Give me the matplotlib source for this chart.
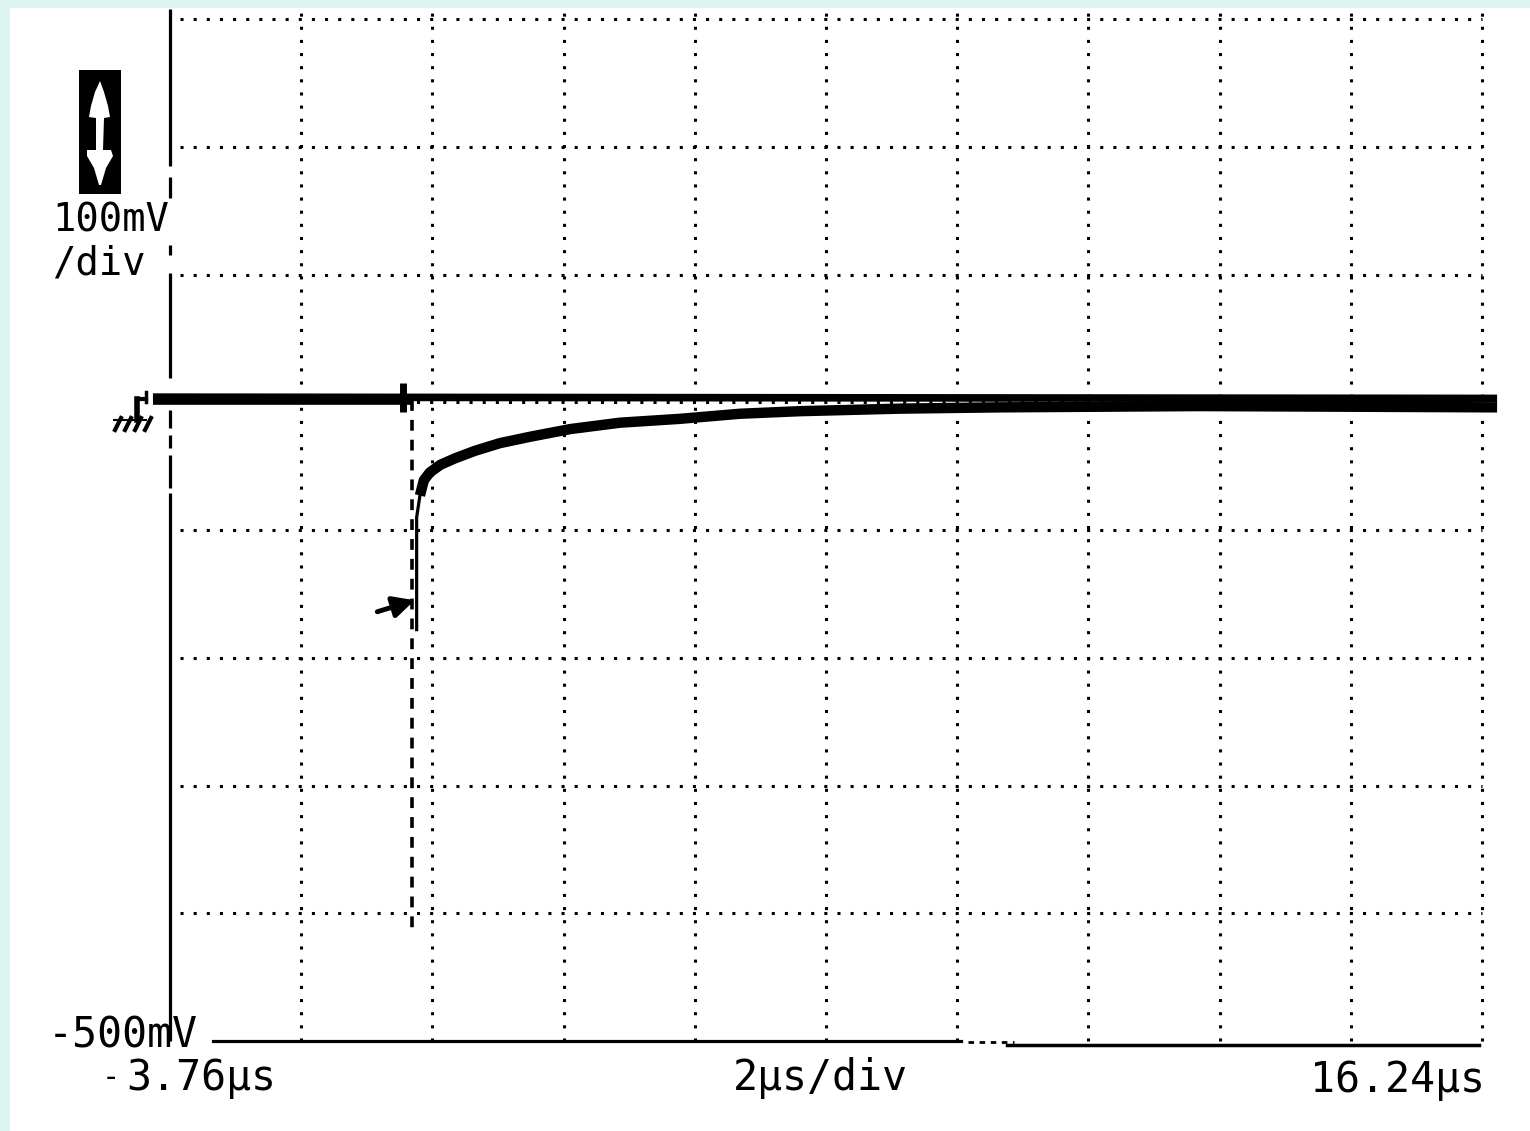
import matplotlib
matplotlib.use("Agg")
from matplotlib import pyplot as plt
from matplotlib.patches import Rectangle, Polygon

W, H = 1530, 1131

# scope settings
t_left, t_right = -3.76, 16.24      # us
v_bottom, v_top = -500, 300         # mV
t_div, v_div = 2, 100

# flat reference trace (mV vs us)
t_ref = [-4.02, 16.47]
v_ref = [4, 3]

# decaying trace, before the step
t_pre = [-4.02, -0.07]
v_pre = [1, 1]

# fast falling edge (drawn sparse by the scope)
t_edge = [-0.07, -0.07]
v_edge = [2, -413]

# rise back from the minimum
t_rise = [0.0, 0.0, 0.05]
v_rise = [-178, -90, -73]

# slow recovery
t_dec = [0.05, 0.11, 0.2, 0.36, 0.58, 0.89, 1.27, 1.73, 2.34, 3.10,
         4.01, 4.93, 5.84, 7.37, 8.89, 11.94, 16.47]
v_dec = [-73, -61, -55, -49, -44, -38, -32, -27, -21, -16,
         -13, -9, -7, -5, -4, -3, -4]

# trigger point marker and trigger level arrow
t_trig = -0.21
v_trig = [15, -8]
trig_level = -155

# solid pieces of the left screen edge (mV)
edge_pieces = [(308, 185), (176, 160), (123, 115), (101, 19), (-6, -20),
               (-26, -36), (-41, -67), (-71, -500)]


def fx(x):
    return x / W


def fy(y):
    return 1 - y / H


fig = plt.figure(figsize=(W / 100, H / 100), dpi=100)
fig.patch.set_facecolor("#DDF5F1")
fig.patches.append(Rectangle((fx(10), 0), 1, fy(8), transform=fig.transFigure,
                             facecolor="white", edgecolor="none", zorder=-5))

ax = fig.add_axes([fx(170), fy(1041), fx(1482) - fx(170), fy(19) - fy(1041)])
ax.set_xlim(t_left, t_right)
ax.set_ylim(v_bottom, v_top)
ax.axis("off")
ax.set_zorder(3)

dots = dict(color="black", lw=2.2, linestyle=(0, (1, 3.3)), clip_on=False,
            solid_capstyle="butt", dash_capstyle="butt")

# grid
for k in range(1, 11):
    t = t_left + k * t_div
    ax.plot([t, t], [v_bottom, 308], **dots)
for v in range(v_bottom + v_div, v_top + 1, v_div):
    ax.plot([t_left + 0.15, t_right], [v, v], **dots)

# left edge of screen
for a, b in edge_pieces:
    ax.plot([t_left, t_left], [a, b], color="black", lw=2.3, clip_on=False,
            solid_capstyle="butt")

# bottom line
ax.plot([-3.1, 8.3], [-500, -500], color="black", lw=2.3, clip_on=False)
ax.plot([8.4, 9.1], [-501, -501], color="black", lw=2.0,
        linestyle=(0, (2, 2)), clip_on=False)
ax.plot([9.0, 16.2], [-503, -503], color="black", lw=2.5, clip_on=False)

# traces
ax.plot(t_ref, v_ref, color="black", lw=5.5, clip_on=False, solid_capstyle="butt")
ax.plot(t_pre, v_pre, color="black", lw=5.5, clip_on=False, solid_capstyle="butt")
ax.plot(t_edge, v_edge, color="black", lw=2.6, linestyle=(0, (3, 2.5)),
        clip_on=False)
ax.plot(t_rise, v_rise, color="black", lw=2.3, clip_on=False)
ax.plot(t_dec, v_dec, color="black", lw=7.5, clip_on=False,
        solid_capstyle="butt", solid_joinstyle="round")
ax.plot([t_trig, t_trig], v_trig, color="black", lw=5, clip_on=False,
        solid_capstyle="butt")

ax.annotate("", xy=(-0.03, trig_level), xytext=(-0.6, trig_level - 9),
            arrowprops=dict(arrowstyle="-|>", color="black", lw=3.5,
                            mutation_scale=32, shrinkA=0, shrinkB=0),
            annotation_clip=False)

# ground marker
tf = fig.transFigure
fig.lines.append(plt.Line2D([fx(137), fx(137)], [fy(399), fy(420)], lw=4,
                            color="black", transform=tf))
fig.lines.append(plt.Line2D([fx(137), fx(146)], [fy(399), fy(399)], lw=3,
                            color="black", transform=tf))
fig.lines.append(plt.Line2D([fx(146), fx(146)], [fy(392), fy(402)], lw=2.5,
                            color="black", transform=tf))
for x0 in (115, 125, 135, 145):
    fig.lines.append(plt.Line2D([fx(x0), fx(x0 + 6)], [fy(430), fy(418)], lw=3,
                                color="black", transform=tf))
fig.lines.append(plt.Line2D([fx(114), fx(146)], [fy(420), fy(420)], lw=1.5,
                            color="black", transform=tf))

# volts/div icon
fig.patches.append(Rectangle((fx(79), fy(194)), fx(121) - fx(79), fy(70) - fy(194),
                             transform=tf, facecolor="black", edgecolor="none"))
arrow_px = [(100, 81), (104, 92), (108, 106), (110, 117), (104, 118), (103, 150),
            (111, 150), (113, 156), (106, 168), (101, 185), (99, 185),
            (94, 168), (87, 156), (87, 150), (96, 150), (96, 118),
            (89, 117), (91, 106), (95, 92)]
fig.patches.append(Polygon([(fx(x), fy(y)) for x, y in arrow_px], closed=True,
                           transform=tf, facecolor="white", edgecolor="none"))

font = dict(family="DejaVu Sans Mono", fontsize=28, color="black",
            va="baseline", ha="left")
fig.text(fx(52), fy(232), "100mV", **font)
fig.text(fx(52), fy(275), "/div", **font)
font["fontsize"] = 30
fig.text(fx(48), fy(1047), "-500mV", **font)
fig.text(fx(102), fy(1086), "-", family="DejaVu Sans Mono", fontsize=22,
         va="baseline", ha="left")
fig.text(fx(126), fy(1090), "3.76µs", **font)
fig.text(fx(733), fy(1090), "2µs/div", **font)
fig.text(fx(1310), fy(1092), "16.24µs", **font)

fig.savefig("out.png", dpi=100, facecolor=fig.get_facecolor())
